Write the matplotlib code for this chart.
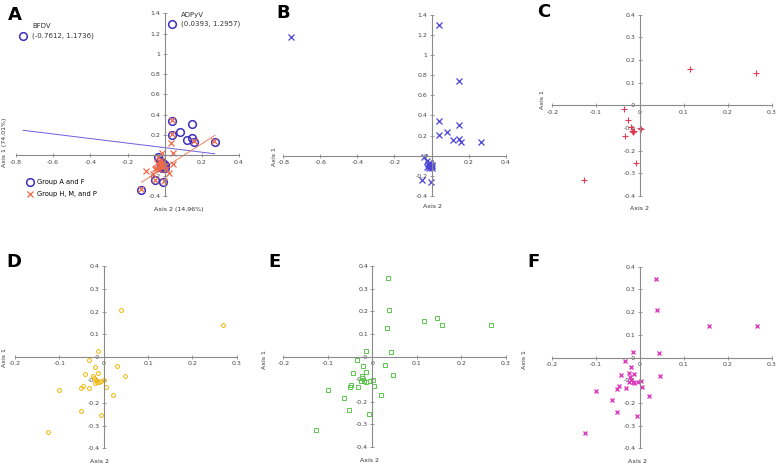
import matplotlib
matplotlib.use('Agg')
import matplotlib.pyplot as plt
from matplotlib.ticker import FormatStrFormatter
import numpy as np

# panel B: Group A and F (also the circles of panel A)
b_x = [-0.761, 0.039, 0.150, 0.038, 0.148, 0.082, 0.038, 0.118, 0.148, 0.159, 0.269,
       -0.040, -0.026, -0.018, -0.012, -0.005, 0.002, -0.022, -0.010, 0.000, -0.015, 0.005,
       -0.050, -0.005]
b_y = [1.174, 1.296, 0.740, 0.345, 0.309, 0.236, 0.206, 0.153, 0.166, 0.133, 0.133,
       -0.013, -0.053, -0.080, -0.100, -0.110, -0.090, -0.110, -0.075, -0.120, -0.120, -0.105,
       -0.245, -0.262]

# panel A circles
a_circ_x = [-0.7612, 0.0393, 0.038, 0.146, 0.083, 0.038, 0.119, 0.147, 0.156, 0.269,
            -0.034, -0.026, -0.018, -0.012, -0.005, 0.002, -0.022, -0.010, 0.000, -0.015,
            -0.053, -0.007, -0.125]
a_circ_y = [1.1736, 1.2957, 0.343, 0.306, 0.234, 0.201, 0.152, 0.168, 0.128, 0.132,
            -0.016, -0.053, -0.080, -0.100, -0.110, -0.090, -0.110, -0.075, -0.120, -0.120,
            -0.247, -0.260, -0.339]

# panel F: group H, M and P
f_x = [0.037, 0.040, 0.157, 0.267, -0.015, 0.043, -0.034, -0.019, -0.025, -0.013, -0.043,
       0.047, -0.022, -0.019, -0.016, -0.013, -0.025, -0.004, 0.003, -0.047, -0.051, -0.032,
       0.005, -0.100, 0.021, -0.062, -0.052, -0.005, -0.125]
f_y = [0.348, 0.209, 0.140, 0.140, 0.025, 0.021, -0.015, -0.043, -0.068, -0.071, -0.075,
       -0.082, -0.085, -0.097, -0.107, -0.112, -0.107, -0.109, -0.103, -0.126, -0.137, -0.135,
       -0.132, -0.149, -0.169, -0.187, -0.241, -0.257, -0.331]

# panel A crosses
a_x_x = f_x + [0.033]
a_x_y = f_y + [0.127]

# panel E
e_x = [0.036, 0.038, 0.116, 0.146, 0.156, 0.267, 0.033, -0.014, 0.042, -0.034, -0.020,
       0.029, -0.013, -0.044, 0.047, -0.023, -0.022, -0.019, -0.014, -0.025, -0.005, 0.002,
       -0.048, -0.051, -0.033, 0.004, -0.100, 0.020, -0.063, -0.052, -0.007, -0.126]
e_y = [0.346, 0.207, 0.158, 0.172, 0.139, 0.139, 0.127, 0.025, 0.022, -0.015, -0.042,
       -0.039, -0.070, -0.073, -0.083, -0.085, -0.096, -0.107, -0.111, -0.109, -0.108, -0.104,
       -0.126, -0.136, -0.134, -0.131, -0.147, -0.168, -0.185, -0.238, -0.254, -0.327]

# panel D
d_x = [0.039, 0.269, -0.0135, -0.034, -0.020, 0.030, -0.0135, -0.043, 0.047, -0.023,
       -0.021, -0.018, -0.014, -0.011, -0.019, -0.005, 0.001, -0.047, -0.051, -0.033,
       0.0045, -0.101, 0.020, -0.052, -0.005, -0.126]
d_y = [0.207, 0.139, 0.025, -0.013, -0.042, -0.039, -0.069, -0.072, -0.082, -0.082,
       -0.092, -0.099, -0.107, -0.111, -0.114, -0.105, -0.102, -0.126, -0.137, -0.134,
       -0.133, -0.146, -0.168, -0.238, -0.255, -0.327]

# panel C
c_x = [0.115, 0.264, -0.036, -0.028, -0.020, -0.018, -0.014, -0.016, -0.001, 0.002,
       -0.034, -0.008, -0.128]
c_y = [0.159, 0.141, -0.015, -0.065, -0.096, -0.113, -0.115, -0.116, -0.102, -0.105,
       -0.137, -0.256, -0.331]

# trend lines in panel A
blue_line_x = [-0.761, 0.269]
blue_line_y = [0.247, 0.016]
orange_line_x = [-0.124, 0.271]
orange_line_y = [-0.264, 0.198]

W, H = 778, 465
fig = plt.figure(figsize=(W / 100, H / 100), dpi=100)
grey = '#8a8a8a'


def make_ax(px0, px1, py_top, py_bot, xlim, ylim, xticks, yticks):
    ax = fig.add_axes([px0 / W, 1 - py_bot / H, (px1 - px0) / W, (py_bot - py_top) / H])
    ax.set_xlim(xlim)
    ax.set_ylim(ylim)
    for s in ['top', 'right']:
        ax.spines[s].set_visible(False)
    ax.spines['left'].set_position(('data', 0))
    ax.spines['bottom'].set_position(('data', 0))
    for s in ['left', 'bottom']:
        ax.spines[s].set_color(grey)
        ax.spines[s].set_linewidth(0.8)
    ax.set_xticks(xticks)
    ax.set_yticks(yticks)
    ax.xaxis.set_major_formatter(FormatStrFormatter('%g'))
    ax.yaxis.set_major_formatter(FormatStrFormatter('%g'))
    ax.tick_params(direction='inout', length=3, width=0.6, color=grey,
                   labelsize=4.5, labelcolor='#444444', pad=1.5)
    ax.patch.set_visible(False)
    return ax


def ftext(px, py, s, **kw):
    fig.text(px / W, 1 - py / H, s, **kw)


big_x = np.round(np.arange(-0.8, 0.41, 0.2), 1)
big_y = np.round(np.arange(-0.4, 1.41, 0.2), 1)
small_x = np.round(np.arange(-0.2, 0.31, 0.1), 1)
small_y = np.round(np.arange(-0.4, 0.41, 0.1), 1)

# ---- A ----
axA = make_ax(16, 239, 13.3, 196, (-0.8, 0.4), (-0.4, 1.4), big_x, big_y)
axA.plot(blue_line_x, blue_line_y, color='#6a5fe0', lw=0.7)
axA.plot(orange_line_x, orange_line_y, color='#f08060', lw=0.7)
axA.plot(a_circ_x, a_circ_y, 'o', mfc='none', mec='#3a2fbf', mew=1.1, ms=5.5,
         label='Group A and F', ls='none')
axA.plot(a_x_x, a_x_y, 'x', color='#ee6a48', mew=0.9, ms=4.5,
         label='Group H, M, and P', ls='none')
axA.legend(loc='upper left', bbox_to_anchor=(23 / W, 1 - 176 / H),
           bbox_transform=fig.transFigure, frameon=False, fontsize=4.8,
           handletextpad=0.6, labelspacing=0.9, handlelength=1.0, borderpad=0)
ftext(32, 26, 'BFDV', fontsize=5, color='#333333', va='center')
ftext(32, 36, '(-0.7612, 1.1736)', fontsize=5, color='#333333', va='center')
ftext(181, 15, 'ADPyV', fontsize=5, color='#333333', va='center')
ftext(181, 24, '(0.0393, 1.2957)', fontsize=5, color='#333333', va='center')
ftext(5, 142, 'Axis 1 (74.01%)', fontsize=4.5, rotation=90, ha='center', va='center', color='#333333')
ftext(179, 209, 'Axis 2 (14.96%)', fontsize=4.5, ha='center', va='center', color='#333333')
ftext(8, 15, 'A', fontsize=13, fontweight='bold', va='center')

# ---- B ----
axB = make_ax(283.3, 505.7, 14.7, 196, (-0.8, 0.4), (-0.4, 1.4), big_x, big_y)
axB.plot(b_x, b_y, 'x', color='#4a44d6', mew=0.9, ms=4, ls='none')
ftext(274, 157, 'Axis 1', fontsize=4.5, rotation=90, ha='center', va='center', color='#333333')
ftext(432, 206, 'Axis 2', fontsize=4.5, ha='center', va='center', color='#333333')
ftext(276, 13, 'B', fontsize=13, fontweight='bold', va='center')

# ---- C ----
axC = make_ax(552.3, 771.5, 14.7, 196, (-0.2, 0.3), (-0.4, 0.4), small_x, small_y)
axC.plot(c_x, c_y, '+', color='#e23a52', mew=0.8, ms=4, ls='none')
ftext(542, 100, 'Axis 1', fontsize=4.5, rotation=90, ha='center', va='center', color='#333333')
ftext(639, 208, 'Axis 2', fontsize=4.5, ha='center', va='center', color='#333333')
ftext(537, 12, 'C', fontsize=13, fontweight='bold', va='center')

# ---- D ----
axD = make_ax(15, 236.7, 266, 448.3, (-0.2, 0.3), (-0.4, 0.4), small_x, small_y)
axD.plot(d_x, d_y, 'o', mfc='none', mec='#f2b705', mew=0.7, ms=2.8, ls='none')
ftext(5, 358, 'Axis 1', fontsize=4.5, rotation=90, ha='center', va='center', color='#333333')
ftext(100, 461, 'Axis 2', fontsize=4.5, ha='center', va='center', color='#333333')
ftext(6, 262, 'D', fontsize=13, fontweight='bold', va='center')

# ---- E ----
axE = make_ax(283.3, 505.7, 266, 447, (-0.2, 0.3), (-0.4, 0.4), small_x, small_y)
axE.plot(e_x, e_y, 's', mfc='none', mec='#5ac84a', mew=0.7, ms=3, ls='none')
ftext(265, 360, 'Axis 1', fontsize=4.5, rotation=90, ha='center', va='center', color='#333333')
ftext(370, 460, 'Axis 2', fontsize=4.5, ha='center', va='center', color='#333333')
ftext(268, 262, 'E', fontsize=13, fontweight='bold', va='center')

# ---- F ----
axF = make_ax(551.7, 771.5, 266.7, 448.3, (-0.2, 0.3), (-0.4, 0.4), small_x, small_y)
axF.plot(f_x, f_y, 'x', color='#e03cc0', mew=1.0, ms=3.5, ls='none')
ftext(525, 360, 'Axis 1', fontsize=4.5, rotation=90, ha='center', va='center', color='#333333')
ftext(638, 461, 'Axis 2', fontsize=4.5, ha='center', va='center', color='#333333')
ftext(527, 262, 'F', fontsize=13, fontweight='bold', va='center')

fig.savefig('out.png', dpi=100)
